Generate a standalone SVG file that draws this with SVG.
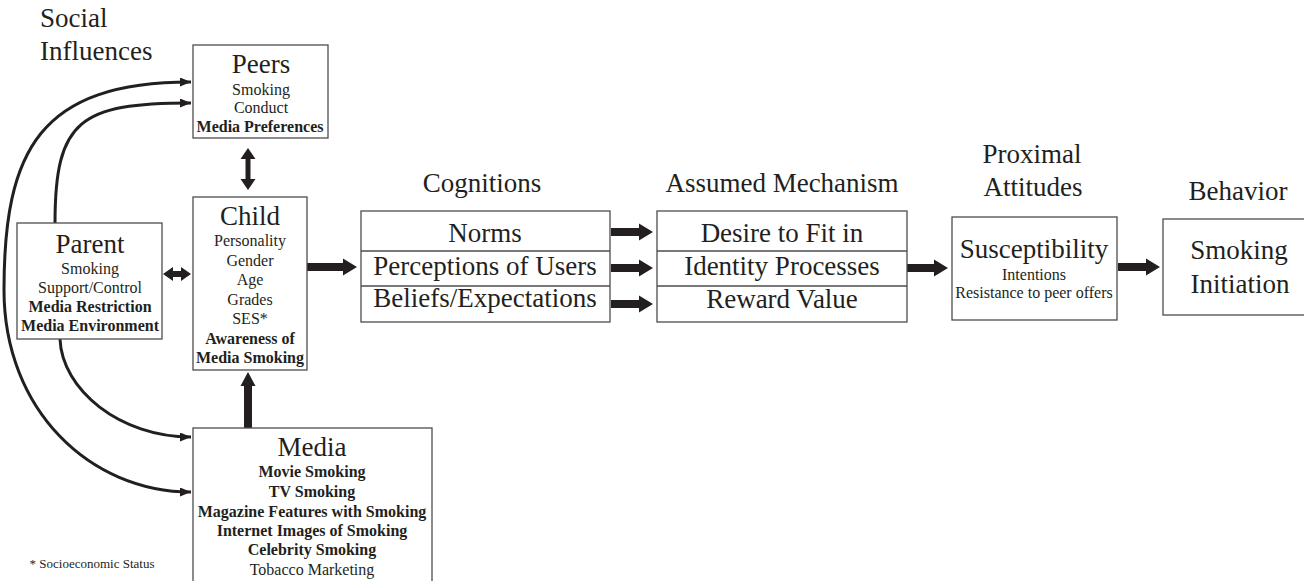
<svg xmlns="http://www.w3.org/2000/svg" width="1304" height="581" viewBox="0 0 1304 581">
<defs>
<style>
text{font-family:"Liberation Serif","Times New Roman",serif;fill:#231f20;text-anchor:middle}
.big{font-size:27px}
.sm{font-size:16px}
.b{font-weight:bold}
.box{fill:#fff;stroke:#4d4d4d;stroke-width:1.3}
.div{stroke:#4d4d4d;stroke-width:1.3}
.blk{fill:#231f20}
.crv{fill:none;stroke:#231f20;stroke-width:3}
</style>
<marker id="ah" markerUnits="userSpaceOnUse" markerWidth="12" markerHeight="10" refX="11" refY="4.5" orient="auto-start-reverse">
<path d="M0,0 L11,4.5 L0,9 z" fill="#231f20"/>
</marker>
</defs>
<rect width="1304" height="581" fill="#fff"/>

<g id="labels">
<text class="big" x="40" y="27" style="text-anchor:start">Social</text>
<text class="big" x="40" y="60" style="text-anchor:start">Influences</text>
<text class="big" x="482" y="192">Cognitions</text>
<text class="big" x="782" y="192">Assumed Mechanism</text>
<text class="big" x="1032" y="163">Proximal</text>
<text class="big" x="1033" y="196">Attitudes</text>
<text class="big" x="1238" y="200">Behavior</text>
<text x="92" y="568" style="font-size:13px">* Socioeconomic Status</text>
</g>

<g id="connectors">
<path class="crv" d="M191,82 C40,82 4,150 4,290 C4,410 90,492 191,492" marker-start="url(#ah)" marker-end="url(#ah)"/>
<path class="crv" d="M55,223 C55,120 80,103 191,103" marker-end="url(#ah)"/>
<path class="crv" d="M60,339 C62,390 120,437 191,437" marker-end="url(#ah)"/>
<polygon class="blk" points="248,148 255.5,159 250.5,159 250.5,179 255.5,179 248,190 240.5,179 245.5,179 245.5,159 240.5,159"/>
<polygon class="blk" points="163,274 173,267 173,271 181,271 181,267 191,274 181,281 181,277 173,277 173,281"/>
<polygon class="blk" points="244,428 244,386 240.5,386 248,372 255.5,386 252,386 252,428"/>
<polygon class="blk" points="307,263 343,263 343,258.5 357,267 343,275.5 343,271 307,271"/>
<polygon class="blk" points="611,228 639,228 639,223.5 653,232 639,240.5 639,236 611,236"/>
<polygon class="blk" points="611,264 639,264 639,259.5 653,268 639,276.5 639,272 611,272"/>
<polygon class="blk" points="611,300 639,300 639,295.5 653,304 639,312.5 639,308 611,308"/>
<polygon class="blk" points="907,264 934,264 934,259.5 948,268 934,276.5 934,272 907,272"/>
<polygon class="blk" points="1118,263 1146,263 1146,258.5 1160,267 1146,275.5 1146,271 1118,271"/>
</g>

<g id="peers">
<rect class="box" x="193" y="45" width="135" height="93"/>
<text class="big" x="261" y="73">Peers</text>
<text class="sm" x="261" y="95">Smoking</text>
<text class="sm" x="261" y="113">Conduct</text>
<text class="sm b" x="260" y="131.5">Media Preferences</text>
</g>

<g id="parent">
<rect class="box" x="17" y="223" width="145" height="116"/>
<text class="big" x="90" y="253">Parent</text>
<text class="sm" x="90" y="274">Smoking</text>
<text class="sm" x="90" y="293">Support/Control</text>
<text class="sm b" x="90" y="312">Media Restriction</text>
<text class="sm b" x="90" y="331">Media Environment</text>
</g>

<g id="child">
<rect class="box" x="193" y="197" width="114" height="173"/>
<text class="big" x="250" y="225">Child</text>
<text class="sm" x="250" y="246">Personality</text>
<text class="sm" x="250" y="265.5">Gender</text>
<text class="sm" x="250" y="285">Age</text>
<text class="sm" x="250" y="304.5">Grades</text>
<text class="sm" x="250" y="324">SES*</text>
<text class="sm b" x="250" y="344">Awareness of</text>
<text class="sm b" x="250" y="363">Media Smoking</text>
</g>

<g id="media">
<rect class="box" x="193" y="428" width="239" height="180"/>
<text class="big" x="312" y="456">Media</text>
<text class="sm b" x="312" y="477">Movie Smoking</text>
<text class="sm b" x="312" y="497">TV Smoking</text>
<text class="sm b" x="312" y="516.5">Magazine Features with Smoking</text>
<text class="sm b" x="312" y="536">Internet Images of Smoking</text>
<text class="sm b" x="312" y="555">Celebrity Smoking</text>
<text class="sm" x="312" y="574.5">Tobacco Marketing</text>
</g>

<g id="cognitions">
<rect class="box" x="361" y="211" width="249" height="111"/>
<line class="div" x1="361" y1="251" x2="610" y2="251"/>
<line class="div" x1="361" y1="286" x2="610" y2="286"/>
<text class="big" x="485" y="242">Norms</text>
<text class="big" x="485" y="275">Perceptions of Users</text>
<text class="big" x="485" y="307">Beliefs/Expectations</text>
</g>

<g id="mechanism">
<rect class="box" x="657" y="211" width="250" height="111"/>
<line class="div" x1="657" y1="251" x2="907" y2="251"/>
<line class="div" x1="657" y1="286" x2="907" y2="286"/>
<text class="big" x="782" y="242">Desire to Fit in</text>
<text class="big" x="782" y="275">Identity Processes</text>
<text class="big" x="782" y="308">Reward Value</text>
</g>

<g id="susceptibility">
<rect class="box" x="952" y="217" width="165" height="103"/>
<text class="big" x="1034" y="258">Susceptibility</text>
<text class="sm" x="1034" y="280">Intentions</text>
<text class="sm" x="1034" y="298">Resistance to peer offers</text>
</g>

<g id="behavior">
<rect class="box" x="1163" y="219" width="160" height="96"/>
<text class="big" x="1239" y="259">Smoking</text>
<text class="big" x="1240" y="293">Initiation</text>
</g>
</svg>
